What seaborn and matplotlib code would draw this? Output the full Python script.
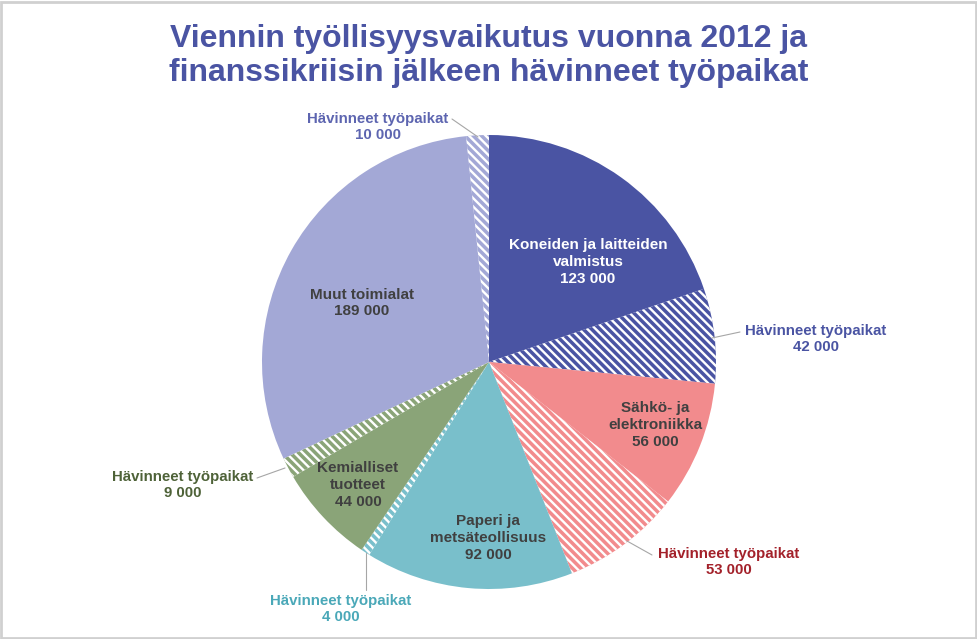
import matplotlib
matplotlib.use("Agg")
import matplotlib.pyplot as plt
import seaborn as sns
import numpy as np

# ---- data ----
categories = ["Koneiden ja laitteiden\nvalmistus", "Hävinneet työpaikat",
              "Sähkö- ja\nelektroniikka", "Hävinneet työpaikat",
              "Paperi ja\nmetsäteollisuus", "Hävinneet työpaikat",
              "Kemialliset\ntuotteet", "Hävinneet työpaikat",
              "Muut toimialat", "Hävinneet työpaikat"]
values = [123000, 42000, 56000, 53000, 92000, 4000, 44000, 9000, 189000, 10000]
value_labels = ["123 000", "42 000", "56 000", "53 000", "92 000", "4 000",
                "44 000", "9 000", "189 000", "10 000"]
lost = [False, True, False, True, False, True, False, True, False, True]
title = "Viennin työllisyysvaikutus vuonna 2012 ja\nfinanssikriisin jälkeen hävinneet työpaikat"

# ---- style ----
sns.set_theme(style="white")
plt.rcParams['font.family'] = ['Liberation Sans', 'DejaVu Sans']
plt.rcParams['hatch.linewidth'] = 1.7

base = ["#4A54A3", "#4A54A3", "#F28B8D", "#F28B8D", "#79BFCB", "#79BFCB",
        "#8AA478", "#8AA478", "#A3A8D6", "#A3A8D6"]
palette = sns.color_palette(base)

W, H = 978, 639
fig = plt.figure(figsize=(W / 100, H / 100), dpi=100)
cx, cy, R = 489, 362, 227
ax = fig.add_axes([(cx - R) / W, (H - cy - R) / H, 2 * R / W, 2 * R / H])

wedges, _ = ax.pie(values, colors=palette, startangle=90, counterclock=False,
                   radius=1.0, wedgeprops=dict(linewidth=0))
ax.set_xlim(-1, 1)
ax.set_ylim(-1, 1)
ax.set_aspect("equal")
ax.axis("off")
for w, l, c in zip(wedges, lost, palette):
    if l:
        w.set_facecolor(c)
        w.set_edgecolor("white")
        w.set_linewidth(0)
        w.set_hatch("\\\\\\\\")

def px(x, y):
    return ((x - cx) / R, (cy - y) / R)

# inside labels
inside = {0: (588, 262, "white"), 2: (655, 425, "#404040"), 4: (488, 538, "#404040"),
          6: (358, 485, "#404040"), 8: (362, 303, "#404040")}
for i, (x, y, col) in inside.items():
    ax.text(*px(x, y), categories[i] + "\n" + value_labels[i], ha="center", va="center",
            fontsize=11, fontweight="bold", color=col, linespacing=1.25)

# outside labels with leader lines
outside = {
    9: ((378, 127), "#5D65B0", (452, 119), (478, 137)),
    1: ((816, 339), "#4A54A3", (740, 332), (712, 338)),
    3: ((729, 562), "#A3212A", (652, 555), (627, 541)),
    5: ((341, 609), "#4AA8B8", (366, 590), (366, 553)),
    7: ((183, 485), "#4E6238", (257, 478), (285, 468)),
}
for i, (pos, col, p0, p1) in outside.items():
    ax.text(*px(*pos), categories[i] + "\n" + value_labels[i], ha="center", va="center",
            fontsize=10.8, fontweight="bold", color=col, linespacing=1.2)
    ax.plot([px(*p0)[0], px(*p1)[0]], [px(*p0)[1], px(*p1)[1]],
            color="#A6A6A6", linewidth=0.8, clip_on=False)

fig.text(0.5, 1 - 56 / H, title, ha="center", va="center", fontsize=23,
         fontweight="bold", color="#4A54A3", linespacing=1.2)

fig.patches.append(plt.Rectangle((0.001, 0.001), 0.997, 0.996, transform=fig.transFigure,
                                 fill=False, edgecolor="#D0D0D0", linewidth=2))

fig.savefig("out.png", dpi=100)
